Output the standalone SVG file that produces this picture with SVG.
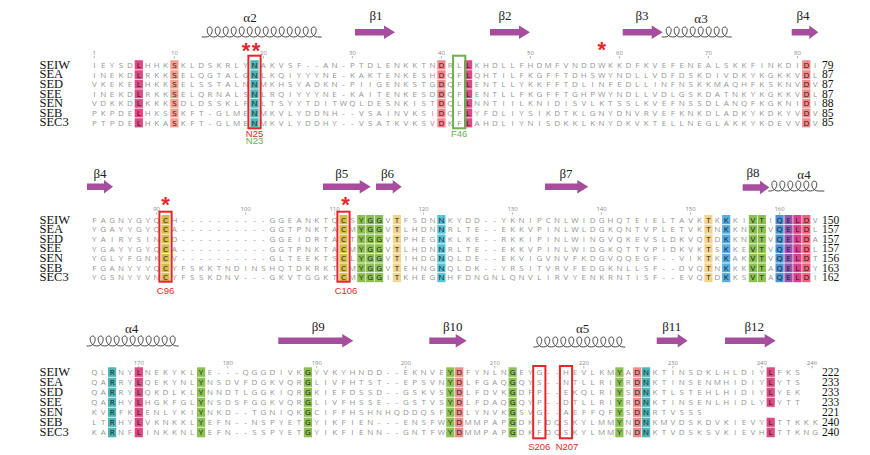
<svg xmlns="http://www.w3.org/2000/svg" width="870" height="455" viewBox="0 0 870 455">
<style>
.lab{font-family:"Liberation Serif",serif;font-size:12.5px;fill:#111}
.num{font-family:"Liberation Serif",serif;font-size:11.5px;fill:#111}
.ss{font-family:"Liberation Serif",serif;font-size:13px;fill:#222;text-anchor:middle}
.seq{font-family:"Open Sans",sans-serif;font-size:8px;fill:#959595;text-anchor:middle}
.k{fill:#1a1a1a}
.mk{font-family:"Open Sans",sans-serif;font-size:6px;fill:#888;text-anchor:middle}
.tick{stroke:#999;stroke-width:0.7}
.arr{fill:#a64d9e}
.coil{fill:none;stroke:#333;stroke-width:0.9}
.ast{font-family:"Liberation Sans",sans-serif;font-size:22px;font-weight:bold;fill:#e8262a;text-anchor:middle}
.rbox{fill:none;stroke:#e8262a;stroke-width:2}
.gbox{fill:none;stroke:#6ab04c;stroke-width:2}
.rl{font-family:"Liberation Sans",sans-serif;font-size:9.5px;fill:#e8262a;text-anchor:middle}
.gl{font-family:"Liberation Sans",sans-serif;font-size:9.5px;fill:#6ab04c;text-anchor:middle}
.sep{stroke:#fff;stroke-width:0.8}
.cM{fill:#dc4a85}.cS{fill:#f0a08c}.cT{fill:#4cb5b5}.cD{fill:#f28a8a}.cC{fill:#d8bc48}.cG{fill:#8cc152}.cY{fill:#f2d48f}.cN{fill:#56c3d6}.cK{fill:#55ace0}.cQ{fill:#4a94d6}.cE{fill:#9457b0}.cL{fill:#d9418c}.cR{fill:#f0627a}
</style>
<rect width="870" height="455" fill="#fff"/>

<!-- ================= BLOCK 1 ================= -->
<g id="block1">
<g id="b1-structure">
<text class="ss" x="250" y="22">α2</text>
<path class="coil" d="M201.7,37h4c7.2,0 8.2,-10 4,-10c-4.2,0-3.2,10 4,10c7.2,0 8.2,-10 4,-10c-4.2,0-3.2,10 4,10c7.2,0 8.2,-10 4,-10c-4.2,0-3.2,10 4,10c7.2,0 8.2,-10 4,-10c-4.2,0-3.2,10 4,10c7.2,0 8.2,-10 4,-10c-4.2,0-3.2,10 4,10c7.2,0 8.2,-10 4,-10c-4.2,0-3.2,10 4,10c7.2,0 8.2,-10 4,-10c-4.2,0-3.2,10 4,10c7.2,0 8.2,-10 4,-10c-4.2,0-3.2,10 4,10c7.2,0 8.2,-10 4,-10c-4.2,0-3.2,10 4,10c7.2,0 8.2,-10 4,-10c-4.2,0-3.2,10 4,10c7.2,0 8.2,-10 4,-10c-4.2,0-3.2,10 4,10c7.2,0 8.2,-10 4,-10c-4.2,0-3.2,10 4,10c7.2,0 8.2,-10 4,-10c-4.2,0-3.2,10 4,10c7.2,0 8.2,-10 4,-10c-4.2,0-3.2,10 4,10h4"/>
<text class="ss" x="376" y="20">β1</text>
<polygon class="arr" points="355,29.1 384,29.1 384,25.6 395,32.3 384,39 384,35.5 355,35.5"/>
<text class="ss" x="505" y="20">β2</text>
<polygon class="arr" points="490,29.1 519,29.1 519,25.6 530,32.3 519,39 519,35.5 490,35.5"/>
<text class="ss" x="642" y="20">β3</text>
<polygon class="arr" points="622.7,29.1 651.7,29.1 651.7,25.6 662.7,32.3 651.7,39 651.7,35.5 622.7,35.5"/>
<text class="ss" x="701" y="22.5">α3</text>
<path class="coil" d="M661.7,37h3c7.2,0 8.2,-10 4,-10c-4.2,0-3.2,10 4,10c7.2,0 8.2,-10 4,-10c-4.2,0-3.2,10 4,10c7.2,0 8.2,-10 4,-10c-4.2,0-3.2,10 4,10c7.2,0 8.2,-10 4,-10c-4.2,0-3.2,10 4,10c7.2,0 8.2,-10 4,-10c-4.2,0-3.2,10 4,10c7.2,0 8.2,-10 4,-10c-4.2,0-3.2,10 4,10c7.2,0 8.2,-10 4,-10c-4.2,0-3.2,10 4,10c7.2,0 8.2,-10 4,-10c-4.2,0-3.2,10 4,10h3"/>
<text class="ss" x="803" y="20">β4</text>
<polygon class="arr" points="791.7,29.1 809.3,29.1 809.3,25.6 818.3,32.3 809.3,39 809.3,35.5 791.7,35.5"/>
<text class="ast" x="246" y="58">*</text>
<text class="ast" x="256" y="58">*</text>
<text class="ast" x="601.7" y="57">*</text>
</g>
<g id="b1-markers">
<text class="mk" x="94.3" y="55">1</text><text class="mk" x="174.4" y="55">10</text><text class="mk" x="263.4" y="55">20</text><text class="mk" x="352.4" y="55">30</text><text class="mk" x="441.4" y="55">40</text><text class="mk" x="530.4" y="55">50</text><text class="mk" x="619.4" y="55">60</text><text class="mk" x="708.4" y="55">70</text><text class="mk" x="797.4" y="55">80</text>
<path class="tick" d="M94.3,56v2.5M174.4,56v2.5M263.4,56v2.5M352.4,56v2.5M441.4,56v2.5M530.4,56v2.5M619.4,56v2.5M708.4,56v2.5M797.4,56v2.5"/>
</g>
<g id="b1-highlights">
<rect class="cM" x="134.7" y="60.2" width="8.2" height="67.2"/>
<rect class="cS" x="170.3" y="60.2" width="8.2" height="67.2"/>
<rect class="cT" x="250.4" y="60.2" width="8.2" height="67.2"/>
<rect class="cD" x="437.3" y="60.2" width="8.2" height="67.2"/>
<rect class="cM" x="464" y="60.2" width="8.2" height="67.2"/>
<rect class="cD" x="802.2" y="60.2" width="8.2" height="67.2"/>
<path class="sep" d="M88,69.8H815M88,79.4H815M88,89H815M88,98.6H815M88,108.2H815M88,117.8H815"/>
</g>
<g id="b1-labels">
<text class="lab" x="39.5" y="68.7">SEIW</text><text class="lab" x="39.5" y="78.3">SEA</text><text class="lab" x="39.5" y="87.9">SED</text><text class="lab" x="39.5" y="97.5">SEE</text><text class="lab" x="39.5" y="107.1">SEN</text><text class="lab" x="39.5" y="116.7">SEB</text><text class="lab" x="39.5" y="126.3">SEC3</text>
<text class="num" x="822" y="68.7">79</text><text class="num" x="822" y="78.3">87</text><text class="num" x="822" y="87.9">87</text><text class="num" x="822" y="97.5">87</text><text class="num" x="822" y="107.1">88</text><text class="num" x="822" y="116.7">85</text><text class="num" x="822" y="126.3">85</text>
</g>
<g id="b1-seqs">
<text class="seq" y="67.9" x="94.3 103.2 112.1 121 129.9 138.8 147.7 156.6 165.5 174.4 183.3 192.2 201.1 210 218.9 227.8 236.7 245.6 254.5 263.4 272.3 281.2 290.1 299 307.9 316.8 325.7 334.6 343.5 352.4 361.3 370.2 379.1 388 396.9 405.8 414.7 423.6 432.5 441.4 450.3 459.2 468.1 477 485.9 494.8 503.7 512.6 521.5 530.4 539.3 548.2 557.1 566 574.9 583.8 592.7 601.6 610.5 619.4 628.3 637.2 646.1 655 663.9 672.8 681.7 690.6 699.5 708.4 717.3 726.2 735.1 744 752.9 761.8 770.7 779.6 788.5 797.4 806.3 815.2">IEYSD<tspan class="k">L</tspan>HHK<tspan class="k">S</tspan>KLDSKRLY<tspan class="k">N</tspan>AKVSF--AN-PTDLENKKTN<tspan class="k">D</tspan>RL<tspan class="k">L</tspan>KHDLLFHDMFVNDDWKKDFKVEFENEALSKKFINKDI<tspan class="k">D</tspan>I</text>
<text class="seq" y="77.5" x="94.3 103.2 112.1 121 129.9 138.8 147.7 156.6 165.5 174.4 183.3 192.2 201.1 210 218.9 227.8 236.7 245.6 254.5 263.4 272.3 281.2 290.1 299 307.9 316.8 325.7 334.6 343.5 352.4 361.3 370.2 379.1 388 396.9 405.8 414.7 423.6 432.5 441.4 450.3 459.2 468.1 477 485.9 494.8 503.7 512.6 521.5 530.4 539.3 548.2 557.1 566 574.9 583.8 592.7 601.6 610.5 619.4 628.3 637.2 646.1 655 663.9 672.8 681.7 690.6 699.5 708.4 717.3 726.2 735.1 744 752.9 761.8 770.7 779.6 788.5 797.4 806.3 815.2">INEKD<tspan class="k">L</tspan>RKK<tspan class="k">S</tspan>ELQGTALG<tspan class="k">N</tspan>LKQIYYYNE-KAKTENKESH<tspan class="k">D</tspan>QF<tspan class="k">L</tspan>QHTILFKGFFTDHSWYNDLLVDFDSKDIVDKYKGKKV<tspan class="k">D</tspan>L</text>
<text class="seq" y="87.1" x="94.3 103.2 112.1 121 129.9 138.8 147.7 156.6 165.5 174.4 183.3 192.2 201.1 210 218.9 227.8 236.7 245.6 254.5 263.4 272.3 281.2 290.1 299 307.9 316.8 325.7 334.6 343.5 352.4 361.3 370.2 379.1 388 396.9 405.8 414.7 423.6 432.5 441.4 450.3 459.2 468.1 477 485.9 494.8 503.7 512.6 521.5 530.4 539.3 548.2 557.1 566 574.9 583.8 592.7 601.6 610.5 619.4 628.3 637.2 646.1 655 663.9 672.8 681.7 690.6 699.5 708.4 717.3 726.2 735.1 744 752.9 761.8 770.7 779.6 788.5 797.4 806.3 815.2">VKEKE<tspan class="k">L</tspan>HKK<tspan class="k">S</tspan>ELSSTALN<tspan class="k">N</tspan>MKHSYADKN-PIIGENKSTG<tspan class="k">D</tspan>QF<tspan class="k">L</tspan>ENTLLYKKFFTDLINFEDLLINFNSKKMAQHFKSKNV<tspan class="k">D</tspan>V</text>
<text class="seq" y="96.7" x="94.3 103.2 112.1 121 129.9 138.8 147.7 156.6 165.5 174.4 183.3 192.2 201.1 210 218.9 227.8 236.7 245.6 254.5 263.4 272.3 281.2 290.1 299 307.9 316.8 325.7 334.6 343.5 352.4 361.3 370.2 379.1 388 396.9 405.8 414.7 423.6 432.5 441.4 450.3 459.2 468.1 477 485.9 494.8 503.7 512.6 521.5 530.4 539.3 548.2 557.1 566 574.9 583.8 592.7 601.6 610.5 619.4 628.3 637.2 646.1 655 663.9 672.8 681.7 690.6 699.5 708.4 717.3 726.2 735.1 744 752.9 761.8 770.7 779.6 788.5 797.4 806.3 815.2">INEKD<tspan class="k">L</tspan>RKK<tspan class="k">S</tspan>ELQRNALS<tspan class="k">N</tspan>LRQIYYYNE-KAITENKESD<tspan class="k">D</tspan>QF<tspan class="k">L</tspan>ENTLLFKGFFTGHPWYNDLLVDLGSKDATNKYKGKKV<tspan class="k">D</tspan>L</text>
<text class="seq" y="106.3" x="94.3 103.2 112.1 121 129.9 138.8 147.7 156.6 165.5 174.4 183.3 192.2 201.1 210 218.9 227.8 236.7 245.6 254.5 263.4 272.3 281.2 290.1 299 307.9 316.8 325.7 334.6 343.5 352.4 361.3 370.2 379.1 388 396.9 405.8 414.7 423.6 432.5 441.4 450.3 459.2 468.1 477 485.9 494.8 503.7 512.6 521.5 530.4 539.3 548.2 557.1 566 574.9 583.8 592.7 601.6 610.5 619.4 628.3 637.2 646.1 655 663.9 672.8 681.7 690.6 699.5 708.4 717.3 726.2 735.1 744 752.9 761.8 770.7 779.6 788.5 797.4 806.3 815.2">VDKKD<tspan class="k">L</tspan>KKK<tspan class="k">S</tspan>DLDSSKLF<tspan class="k">N</tspan>LTSYYTDITWQLDESNKIST<tspan class="k">D</tspan>QL<tspan class="k">L</tspan>NNTIILKNIDISVLKTSSLKVEFNSSDLANQFKGKNI<tspan class="k">D</tspan>I</text>
<text class="seq" y="115.9" x="94.3 103.2 112.1 121 129.9 138.8 147.7 156.6 165.5 174.4 183.3 192.2 201.1 210 218.9 227.8 236.7 245.6 254.5 263.4 272.3 281.2 290.1 299 307.9 316.8 325.7 334.6 343.5 352.4 361.3 370.2 379.1 388 396.9 405.8 414.7 423.6 432.5 441.4 450.3 459.2 468.1 477 485.9 494.8 503.7 512.6 521.5 530.4 539.3 548.2 557.1 566 574.9 583.8 592.7 601.6 610.5 619.4 628.3 637.2 646.1 655 663.9 672.8 681.7 690.6 699.5 708.4 717.3 726.2 735.1 744 752.9 761.8 770.7 779.6 788.5 797.4 806.3 815.2">PKPDE<tspan class="k">L</tspan>HKS<tspan class="k">S</tspan>KFT-GLME<tspan class="k">N</tspan>MKVLYDDNH--VSAINVKSI<tspan class="k">D</tspan>QF<tspan class="k">L</tspan>YFDLIYSIKDTKLGNYDNVRVEFKNKDLADKYKDKYV<tspan class="k">D</tspan>V</text>
<text class="seq" y="125.5" x="94.3 103.2 112.1 121 129.9 138.8 147.7 156.6 165.5 174.4 183.3 192.2 201.1 210 218.9 227.8 236.7 245.6 254.5 263.4 272.3 281.2 290.1 299 307.9 316.8 325.7 334.6 343.5 352.4 361.3 370.2 379.1 388 396.9 405.8 414.7 423.6 432.5 441.4 450.3 459.2 468.1 477 485.9 494.8 503.7 512.6 521.5 530.4 539.3 548.2 557.1 566 574.9 583.8 592.7 601.6 610.5 619.4 628.3 637.2 646.1 655 663.9 672.8 681.7 690.6 699.5 708.4 717.3 726.2 735.1 744 752.9 761.8 770.7 779.6 788.5 797.4 806.3 815.2">PTPDE<tspan class="k">L</tspan>HKA<tspan class="k">S</tspan>KFT-GLME<tspan class="k">N</tspan>MKVLYDDHY--VSATKVKSV<tspan class="k">D</tspan>KF<tspan class="k">L</tspan>AHDLIYNISDKKLKNYDKVKTELLNEGLAKKYKDEVV<tspan class="k">D</tspan>V</text>
</g>
<g id="b1-boxes">
<rect class="rbox" x="248.4" y="55.7" width="12.2" height="72.6"/>
<rect class="gbox" x="453.1" y="55.7" width="12.2" height="72.6"/>
<text class="rl" x="254.5" y="136.6">N25</text>
<text class="gl" x="254.5" y="144.4">N23</text>
<text class="gl" x="459.2" y="136.6">F46</text>
</g>
</g>

<!-- ================= BLOCK 2 ================= -->
<g id="block2">
<g id="b2-structure">
<text class="ss" x="100" y="178">β4</text>
<polygon class="arr" points="87,183.6 104,183.6 104,180.1 113,186.8 104,193.5 104,190 87,190"/>
<text class="ss" x="341.7" y="178">β5</text>
<polygon class="arr" points="323,183.6 359.7,183.6 359.7,180.1 370.7,186.8 359.7,193.5 359.7,190 323,190"/>
<text class="ss" x="387.5" y="178">β6</text>
<polygon class="arr" points="376,183.6 392.7,183.6 392.7,180.1 401.7,186.8 392.7,193.5 392.7,190 376,190"/>
<text class="ss" x="566" y="178">β7</text>
<polygon class="arr" points="545,183.6 577.3,183.6 577.3,180.1 588.3,186.8 577.3,193.5 577.3,190 545,190"/>
<text class="ss" x="753" y="177">β8</text>
<polygon class="arr" points="742.7,184.3 760,184.3 760,180.8 769.5,187.5 760,194.2 760,190.7 742.7,190.7"/>
<text class="ss" x="804" y="178.5">α4</text>
<path class="coil" d="M768.3,191h2c7.2,0 8.2,-10 4,-10c-4.2,0-3.2,10 4,10c7.2,0 8.2,-10 4,-10c-4.2,0-3.2,10 4,10c7.2,0 8.2,-10 4,-10c-4.2,0-3.2,10 4,10c7.2,0 8.2,-10 4,-10c-4.2,0-3.2,10 4,10c7.2,0 8.2,-10 4,-10c-4.2,0-3.2,10 4,10c7.2,0 8.2,-10 4,-10c-4.2,0-3.2,10 4,10h6"/>
<text class="ast" x="165.5" y="211.5">*</text>
<text class="ast" x="345.5" y="211.8">*</text>
</g>
<g id="b2-markers">
<text class="mk" x="156.6" y="211.3">90</text><text class="mk" x="245.6" y="211.3">100</text><text class="mk" x="334.6" y="211.3">110</text><text class="mk" x="423.6" y="211.3">120</text><text class="mk" x="512.6" y="211.3">130</text><text class="mk" x="601.6" y="211.3">140</text><text class="mk" x="690.6" y="211.3">150</text><text class="mk" x="779.6" y="211.3">160</text>
<path class="tick" d="M156.6,212.3v2.5M245.6,212.3v2.5M334.6,212.3v2.5M423.6,212.3v2.5M512.6,212.3v2.5M601.6,212.3v2.5M690.6,212.3v2.5M779.6,212.3v2.5"/>
</g>
<g id="b2-highlights">
<rect class="cC" x="161.4" y="215" width="8.2" height="67.2"/>
<rect class="cC" x="339.4" y="215" width="8.2" height="67.2"/>
<rect class="cG" x="357.2" y="215" width="8.2" height="67.2"/>
<rect class="cG" x="366.1" y="215" width="8.2" height="67.2"/>
<rect class="cG" x="375" y="215" width="8.2" height="67.2"/>
<rect class="cY" x="392.8" y="215" width="8.2" height="67.2"/>
<rect class="cN" x="437.3" y="215" width="8.2" height="67.2"/>
<rect class="cY" x="704.3" y="215" width="8.2" height="67.2"/>
<rect class="cK" x="722.1" y="215" width="8.2" height="67.2"/>
<rect class="cG" x="748.8" y="215" width="8.2" height="67.2"/>
<rect class="cG" x="757.7" y="215" width="8.2" height="67.2"/>
<rect class="cQ" x="775.5" y="215" width="8.2" height="67.2"/>
<rect class="cE" x="784.4" y="215" width="8.2" height="67.2"/>
<rect class="cL" x="793.3" y="215" width="8.2" height="67.2"/>
<rect class="cR" x="802.2" y="215" width="8.2" height="67.2"/>
<path class="sep" d="M88,224.6H815M88,234.2H815M88,243.8H815M88,253.4H815M88,263H815M88,272.6H815"/>
</g>
<g id="b2-labels">
<text class="lab" x="39.5" y="223.5">SEIW</text><text class="lab" x="39.5" y="233.1">SEA</text><text class="lab" x="39.5" y="242.7">SED</text><text class="lab" x="39.5" y="252.3">SEE</text><text class="lab" x="39.5" y="261.9">SEN</text><text class="lab" x="39.5" y="271.5">SEB</text><text class="lab" x="39.5" y="281.1">SEC3</text>
<text class="num" x="822" y="223.5">150</text><text class="num" x="822" y="233.1">157</text><text class="num" x="822" y="242.7">157</text><text class="num" x="822" y="252.3">157</text><text class="num" x="822" y="261.9">156</text><text class="num" x="822" y="271.5">163</text><text class="num" x="822" y="281.1">162</text>
</g>
<g id="b2-seqs">
<text class="seq" y="222.7" x="94.3 103.2 112.1 121 129.9 138.8 147.7 156.6 165.5 174.4 183.3 192.2 201.1 210 218.9 227.8 236.7 245.6 254.5 263.4 272.3 281.2 290.1 299 307.9 316.8 325.7 334.6 343.5 352.4 361.3 370.2 379.1 388 396.9 405.8 414.7 423.6 432.5 441.4 450.3 459.2 468.1 477 485.9 494.8 503.7 512.6 521.5 530.4 539.3 548.2 557.1 566 574.9 583.8 592.7 601.6 610.5 619.4 628.3 637.2 646.1 655 663.9 672.8 681.7 690.6 699.5 708.4 717.3 726.2 735.1 744 752.9 761.8 770.7 779.6 788.5 797.4 806.3 815.2">FAGNYGYQ<tspan class="k">C</tspan>H----------GGEANKTQ<tspan class="k">C</tspan>S<tspan class="k">YGG</tspan>V<tspan class="k">T</tspan>FSDN<tspan class="k">N</tspan>KYDD--YKNIPCNLWIDGHQTEIELTAVK<tspan class="k">T</tspan>K<tspan class="k">K</tspan>KI<tspan class="k">VT</tspan>I<tspan class="k">QELD</tspan>V</text>
<text class="seq" y="232.3" x="94.3 103.2 112.1 121 129.9 138.8 147.7 156.6 165.5 174.4 183.3 192.2 201.1 210 218.9 227.8 236.7 245.6 254.5 263.4 272.3 281.2 290.1 299 307.9 316.8 325.7 334.6 343.5 352.4 361.3 370.2 379.1 388 396.9 405.8 414.7 423.6 432.5 441.4 450.3 459.2 468.1 477 485.9 494.8 503.7 512.6 521.5 530.4 539.3 548.2 557.1 566 574.9 583.8 592.7 601.6 610.5 619.4 628.3 637.2 646.1 655 663.9 672.8 681.7 690.6 699.5 708.4 717.3 726.2 735.1 744 752.9 761.8 770.7 779.6 788.5 797.4 806.3 815.2">YGAYYGYQ<tspan class="k">C</tspan>A----------GGTPNKTA<tspan class="k">C</tspan>M<tspan class="k">YGG</tspan>V<tspan class="k">T</tspan>LHDN<tspan class="k">N</tspan>RLTE--EKKVPINLWLDGKQNTVPLETVK<tspan class="k">T</tspan>N<tspan class="k">K</tspan>KN<tspan class="k">VT</tspan>V<tspan class="k">QELD</tspan>L</text>
<text class="seq" y="241.9" x="94.3 103.2 112.1 121 129.9 138.8 147.7 156.6 165.5 174.4 183.3 192.2 201.1 210 218.9 227.8 236.7 245.6 254.5 263.4 272.3 281.2 290.1 299 307.9 316.8 325.7 334.6 343.5 352.4 361.3 370.2 379.1 388 396.9 405.8 414.7 423.6 432.5 441.4 450.3 459.2 468.1 477 485.9 494.8 503.7 512.6 521.5 530.4 539.3 548.2 557.1 566 574.9 583.8 592.7 601.6 610.5 619.4 628.3 637.2 646.1 655 663.9 672.8 681.7 690.6 699.5 708.4 717.3 726.2 735.1 744 752.9 761.8 770.7 779.6 788.5 797.4 806.3 815.2">YAIRYSIN<tspan class="k">C</tspan>D----------GGEIDRTA<tspan class="k">C</tspan>T<tspan class="k">YGG</tspan>V<tspan class="k">T</tspan>PHEG<tspan class="k">N</tspan>KLKE--RKKIPINLWINGVQKEVSLDKVQ<tspan class="k">T</tspan>D<tspan class="k">K</tspan>KN<tspan class="k">VT</tspan>V<tspan class="k">QELD</tspan>A</text>
<text class="seq" y="251.5" x="94.3 103.2 112.1 121 129.9 138.8 147.7 156.6 165.5 174.4 183.3 192.2 201.1 210 218.9 227.8 236.7 245.6 254.5 263.4 272.3 281.2 290.1 299 307.9 316.8 325.7 334.6 343.5 352.4 361.3 370.2 379.1 388 396.9 405.8 414.7 423.6 432.5 441.4 450.3 459.2 468.1 477 485.9 494.8 503.7 512.6 521.5 530.4 539.3 548.2 557.1 566 574.9 583.8 592.7 601.6 610.5 619.4 628.3 637.2 646.1 655 663.9 672.8 681.7 690.6 699.5 708.4 717.3 726.2 735.1 744 752.9 761.8 770.7 779.6 788.5 797.4 806.3 815.2">YGAYYGYQ<tspan class="k">C</tspan>A----------GGTPNKTA<tspan class="k">C</tspan>M<tspan class="k">YGG</tspan>V<tspan class="k">T</tspan>LHDN<tspan class="k">N</tspan>RLTE--EKKVPINLWIDGKQTTVPIDKVK<tspan class="k">T</tspan>S<tspan class="k">K</tspan>KE<tspan class="k">VT</tspan>V<tspan class="k">QELD</tspan>L</text>
<text class="seq" y="261.1" x="94.3 103.2 112.1 121 129.9 138.8 147.7 156.6 165.5 174.4 183.3 192.2 201.1 210 218.9 227.8 236.7 245.6 254.5 263.4 272.3 281.2 290.1 299 307.9 316.8 325.7 334.6 343.5 352.4 361.3 370.2 379.1 388 396.9 405.8 414.7 423.6 432.5 441.4 450.3 459.2 468.1 477 485.9 494.8 503.7 512.6 521.5 530.4 539.3 548.2 557.1 566 574.9 583.8 592.7 601.6 610.5 619.4 628.3 637.2 646.1 655 663.9 672.8 681.7 690.6 699.5 708.4 717.3 726.2 735.1 744 752.9 761.8 770.7 779.6 788.5 797.4 806.3 815.2">YGLYFGNK<tspan class="k">C</tspan>V----------GLTEEKTS<tspan class="k">C</tspan>L<tspan class="k">YGG</tspan>V<tspan class="k">T</tspan>IHDG<tspan class="k">N</tspan>QLDE--EKVIGVNVFKDGVQQEGF--VIK<tspan class="k">T</tspan>K<tspan class="k">K</tspan>AK<tspan class="k">VT</tspan>V<tspan class="k">QELD</tspan>T</text>
<text class="seq" y="270.7" x="94.3 103.2 112.1 121 129.9 138.8 147.7 156.6 165.5 174.4 183.3 192.2 201.1 210 218.9 227.8 236.7 245.6 254.5 263.4 272.3 281.2 290.1 299 307.9 316.8 325.7 334.6 343.5 352.4 361.3 370.2 379.1 388 396.9 405.8 414.7 423.6 432.5 441.4 450.3 459.2 468.1 477 485.9 494.8 503.7 512.6 521.5 530.4 539.3 548.2 557.1 566 574.9 583.8 592.7 601.6 610.5 619.4 628.3 637.2 646.1 655 663.9 672.8 681.7 690.6 699.5 708.4 717.3 726.2 735.1 744 752.9 761.8 770.7 779.6 788.5 797.4 806.3 815.2">FGANYYYQ<tspan class="k">C</tspan>YFSKKTNDINSHQTDKRKT<tspan class="k">C</tspan>M<tspan class="k">YGG</tspan>V<tspan class="k">T</tspan>EHNG<tspan class="k">N</tspan>QLDK--YRSITVRVFEDGKNLLSF--DVQ<tspan class="k">T</tspan>N<tspan class="k">K</tspan>KK<tspan class="k">VT</tspan>A<tspan class="k">QELD</tspan>Y</text>
<text class="seq" y="280.3" x="94.3 103.2 112.1 121 129.9 138.8 147.7 156.6 165.5 174.4 183.3 192.2 201.1 210 218.9 227.8 236.7 245.6 254.5 263.4 272.3 281.2 290.1 299 307.9 316.8 325.7 334.6 343.5 352.4 361.3 370.2 379.1 388 396.9 405.8 414.7 423.6 432.5 441.4 450.3 459.2 468.1 477 485.9 494.8 503.7 512.6 521.5 530.4 539.3 548.2 557.1 566 574.9 583.8 592.7 601.6 610.5 619.4 628.3 637.2 646.1 655 663.9 672.8 681.7 690.6 699.5 708.4 717.3 726.2 735.1 744 752.9 761.8 770.7 779.6 788.5 797.4 806.3 815.2">YGSNYYVN<tspan class="k">C</tspan>YFSSKDNV---GKVTGGKT<tspan class="k">C</tspan>M<tspan class="k">YGG</tspan>I<tspan class="k">T</tspan>KHEG<tspan class="k">N</tspan>HFDNGNLQNVLIRVYENKRNTISF--EVQ<tspan class="k">T</tspan>D<tspan class="k">K</tspan>KS<tspan class="k">VT</tspan>A<tspan class="k">QELD</tspan>I</text>
</g>
<g id="b2-boxes">
<rect class="rbox" x="159.4" y="211.7" width="12.2" height="70"/>
<rect class="rbox" x="337.4" y="211.7" width="12.2" height="70"/>
<text class="rl" x="165.5" y="294">C96</text>
<text class="rl" x="346" y="294">C106</text>
</g>
</g>

<!-- ================= BLOCK 3 ================= -->
<g id="block3">
<g id="b3-structure">
<text class="ss" x="131.7" y="333.3">α4</text>
<path class="coil" d="M86.7,346h2c7.2,0 8.2,-10 4,-10c-4.2,0-3.2,10 4,10c7.2,0 8.2,-10 4,-10c-4.2,0-3.2,10 4,10c7.2,0 8.2,-10 4,-10c-4.2,0-3.2,10 4,10c7.2,0 8.2,-10 4,-10c-4.2,0-3.2,10 4,10c7.2,0 8.2,-10 4,-10c-4.2,0-3.2,10 4,10c7.2,0 8.2,-10 4,-10c-4.2,0-3.2,10 4,10c7.2,0 8.2,-10 4,-10c-4.2,0-3.2,10 4,10c7.2,0 8.2,-10 4,-10c-4.2,0-3.2,10 4,10c7.2,0 8.2,-10 4,-10c-4.2,0-3.2,10 4,10c7.2,0 8.2,-10 4,-10c-4.2,0-3.2,10 4,10c7.2,0 8.2,-10 4,-10c-4.2,0-3.2,10 4,10h2"/>
<text class="ss" x="318.3" y="331">β9</text>
<polygon class="arr" points="278.3,337.5 342.3,337.5 342.3,334 353.3,340.7 342.3,347.4 342.3,343.9 278.3,343.9"/>
<text class="ss" x="452.8" y="331">β10</text>
<polygon class="arr" points="429.3,337.5 455.7,337.5 455.7,334 466.7,340.7 455.7,347.4 455.7,343.9 429.3,343.9"/>
<text class="ss" x="582.7" y="333.3">α5</text>
<path class="coil" d="M533.3,347h2c7.2,0 8.2,-10 4,-10c-4.2,0-3.2,10 4,10c7.2,0 8.2,-10 4,-10c-4.2,0-3.2,10 4,10c7.2,0 8.2,-10 4,-10c-4.2,0-3.2,10 4,10c7.2,0 8.2,-10 4,-10c-4.2,0-3.2,10 4,10c7.2,0 8.2,-10 4,-10c-4.2,0-3.2,10 4,10c7.2,0 8.2,-10 4,-10c-4.2,0-3.2,10 4,10c7.2,0 8.2,-10 4,-10c-4.2,0-3.2,10 4,10c7.2,0 8.2,-10 4,-10c-4.2,0-3.2,10 4,10c7.2,0 8.2,-10 4,-10c-4.2,0-3.2,10 4,10c7.2,0 8.2,-10 4,-10c-4.2,0-3.2,10 4,10c7.2,0 8.2,-10 4,-10c-4.2,0-3.2,10 4,10h2"/>
<text class="ss" x="671.7" y="331">β11</text>
<polygon class="arr" points="656.7,337.5 677.7,337.5 677.7,334 687.7,340.7 677.7,347.4 677.7,343.9 656.7,343.9"/>
<text class="ss" x="754.3" y="331">β12</text>
<polygon class="arr" points="725,337.5 764.7,337.5 764.7,334 775.7,340.7 764.7,347.4 764.7,343.9 725,343.9"/>
</g>
<g id="b3-markers">
<text class="mk" x="138.8" y="365">170</text><text class="mk" x="227.8" y="365">180</text><text class="mk" x="316.8" y="365">190</text><text class="mk" x="405.8" y="365">200</text><text class="mk" x="494.8" y="365">210</text><text class="mk" x="583.8" y="365">220</text><text class="mk" x="672.8" y="365">230</text><text class="mk" x="761.8" y="365">240</text><text class="mk" x="812" y="365">246</text>
<path class="tick" d="M138.8,366v2.3M227.8,366v2.3M316.8,366v2.3M405.8,366v2.3M494.8,366v2.3M583.8,366v2.3M672.8,366v2.3M761.8,366v2.3M812,366v2.3"/>
</g>
<g id="b3-highlights">
<rect class="cT" x="108" y="367.3" width="8.2" height="70"/>
<rect class="cM" x="134.7" y="367.3" width="8.2" height="70"/>
<rect class="cG" x="197" y="367.3" width="8.2" height="70"/>
<rect class="cG" x="303.8" y="367.3" width="8.2" height="70"/>
<rect class="cG" x="446.2" y="367.3" width="8.2" height="70"/>
<rect class="cD" x="455.1" y="367.3" width="8.2" height="70"/>
<rect class="cG" x="508.5" y="367.3" width="8.2" height="70"/>
<rect class="cG" x="615.3" y="367.3" width="8.2" height="70"/>
<rect class="cD" x="633.1" y="367.3" width="8.2" height="70"/>
<rect class="cT" x="642" y="367.3" width="8.2" height="70"/>
<rect class="cM" x="766.6" y="367.3" width="8.2" height="40"/>
<rect class="cM" x="766.6" y="417.3" width="8.2" height="20"/>
<path class="sep" d="M88,377.3H815M88,387.3H815M88,397.3H815M88,407.3H815M88,417.3H815M88,427.3H815"/>
</g>
<g id="b3-labels">
<text class="lab" x="39.5" y="376">SEIW</text><text class="lab" x="39.5" y="386">SEA</text><text class="lab" x="39.5" y="396">SED</text><text class="lab" x="39.5" y="406">SEE</text><text class="lab" x="39.5" y="416">SEN</text><text class="lab" x="39.5" y="426">SEB</text><text class="lab" x="39.5" y="436">SEC3</text>
<text class="num" x="822" y="376">222</text><text class="num" x="822" y="386">233</text><text class="num" x="822" y="396">233</text><text class="num" x="822" y="406">233</text><text class="num" x="822" y="416">221</text><text class="num" x="822" y="426">240</text><text class="num" x="822" y="436">240</text>
</g>
<g id="b3-seqs">
<text class="seq" y="375.2" x="94.3 103.2 112.1 121 129.9 138.8 147.7 156.6 165.5 174.4 183.3 192.2 201.1 210 218.9 227.8 236.7 245.6 254.5 263.4 272.3 281.2 290.1 299 307.9 316.8 325.7 334.6 343.5 352.4 361.3 370.2 379.1 388 396.9 405.8 414.7 423.6 432.5 441.4 450.3 459.2 468.1 477 485.9 494.8 503.7 512.6 521.5 530.4 539.3 548.2 557.1 566 574.9 583.8 592.7 601.6 610.5 619.4 628.3 637.2 646.1 655 663.9 672.8 681.7 690.6 699.5 708.4 717.3 726.2 735.1 744 752.9 761.8 770.7 779.6 788.5 797.4 806.3 815.2">QL<tspan class="k">R</tspan>NY<tspan class="k">L</tspan>NEKYKL<tspan class="k">Y</tspan>E---QGGDIVK<tspan class="k">G</tspan>YVKYHNDD--EKNVE<tspan class="k">YD</tspan>FYNLN<tspan class="k">G</tspan>EYG--HEVLKM<tspan class="k">Y</tspan>A<tspan class="k">DN</tspan>KTINSDKLHLDIY<tspan class="k">L</tspan>FKS</text>
<text class="seq" y="385.2" x="94.3 103.2 112.1 121 129.9 138.8 147.7 156.6 165.5 174.4 183.3 192.2 201.1 210 218.9 227.8 236.7 245.6 254.5 263.4 272.3 281.2 290.1 299 307.9 316.8 325.7 334.6 343.5 352.4 361.3 370.2 379.1 388 396.9 405.8 414.7 423.6 432.5 441.4 450.3 459.2 468.1 477 485.9 494.8 503.7 512.6 521.5 530.4 539.3 548.2 557.1 566 574.9 583.8 592.7 601.6 610.5 619.4 628.3 637.2 646.1 655 663.9 672.8 681.7 690.6 699.5 708.4 717.3 726.2 735.1 744 752.9 761.8 770.7 779.6 788.5 797.4 806.3 815.2">QA<tspan class="k">R</tspan>RY<tspan class="k">L</tspan>QEKYNL<tspan class="k">Y</tspan>NSDVFDGKVQR<tspan class="k">G</tspan>LIVFHTST--EPSVN<tspan class="k">YD</tspan>LFGAQ<tspan class="k">G</tspan>QYS--NTLLRI<tspan class="k">Y</tspan>R<tspan class="k">DN</tspan>KTINSENMHIDIY<tspan class="k">L</tspan>YTS</text>
<text class="seq" y="395.2" x="94.3 103.2 112.1 121 129.9 138.8 147.7 156.6 165.5 174.4 183.3 192.2 201.1 210 218.9 227.8 236.7 245.6 254.5 263.4 272.3 281.2 290.1 299 307.9 316.8 325.7 334.6 343.5 352.4 361.3 370.2 379.1 388 396.9 405.8 414.7 423.6 432.5 441.4 450.3 459.2 468.1 477 485.9 494.8 503.7 512.6 521.5 530.4 539.3 548.2 557.1 566 574.9 583.8 592.7 601.6 610.5 619.4 628.3 637.2 646.1 655 663.9 672.8 681.7 690.6 699.5 708.4 717.3 726.2 735.1 744 752.9 761.8 770.7 779.6 788.5 797.4 806.3 815.2">QA<tspan class="k">R</tspan>RY<tspan class="k">L</tspan>QKDLKL<tspan class="k">Y</tspan>NNDTLGGKIQR<tspan class="k">G</tspan>KIEFDSSD--GSKVS<tspan class="k">YD</tspan>LFDVK<tspan class="k">G</tspan>DFP--EKQLRI<tspan class="k">Y</tspan>S<tspan class="k">DN</tspan>KTLSTEHLHIDIY<tspan class="k">L</tspan>YEK</text>
<text class="seq" y="405.2" x="94.3 103.2 112.1 121 129.9 138.8 147.7 156.6 165.5 174.4 183.3 192.2 201.1 210 218.9 227.8 236.7 245.6 254.5 263.4 272.3 281.2 290.1 299 307.9 316.8 325.7 334.6 343.5 352.4 361.3 370.2 379.1 388 396.9 405.8 414.7 423.6 432.5 441.4 450.3 459.2 468.1 477 485.9 494.8 503.7 512.6 521.5 530.4 539.3 548.2 557.1 566 574.9 583.8 592.7 601.6 610.5 619.4 628.3 637.2 646.1 655 663.9 672.8 681.7 690.6 699.5 708.4 717.3 726.2 735.1 744 752.9 761.8 770.7 779.6 788.5 797.4 806.3 815.2">QA<tspan class="k">R</tspan>HY<tspan class="k">L</tspan>HGKFGL<tspan class="k">Y</tspan>NSDSFGGKVQR<tspan class="k">G</tspan>LIVFHSSE--GSTVS<tspan class="k">YD</tspan>LFDAQ<tspan class="k">G</tspan>QYP--DTLLRI<tspan class="k">Y</tspan>R<tspan class="k">DN</tspan>KTINSENLHIDLY<tspan class="k">L</tspan>YTT</text>
<text class="seq" y="415.2" x="94.3 103.2 112.1 121 129.9 138.8 147.7 156.6 165.5 174.4 183.3 192.2 201.1 210 218.9 227.8 236.7 245.6 254.5 263.4 272.3 281.2 290.1 299 307.9 316.8 325.7 334.6 343.5 352.4 361.3 370.2 379.1 388 396.9 405.8 414.7 423.6 432.5 441.4 450.3 459.2 468.1 477 485.9 494.8 503.7 512.6 521.5 530.4 539.3 548.2 557.1 566 574.9 583.8 592.7 601.6 610.5 619.4 628.3 637.2 646.1 655 663.9 672.8 681.7 690.6 699.5 708.4 717.3 726.2 735.1 744 752.9 761.8 770.7 779.6 788.5 797.4 806.3 815.2">KV<tspan class="k">R</tspan>FK<tspan class="k">L</tspan>ENLYKI<tspan class="k">Y</tspan>NKD--TGNIQK<tspan class="k">G</tspan>CIFFHSHNHQDDQSF<tspan class="k">YD</tspan>LYNVK<tspan class="k">G</tspan>SVG--AEFFQF<tspan class="k">Y</tspan>S<tspan class="k">DN</tspan>RTVSSS</text>
<text class="seq" y="425.2" x="94.3 103.2 112.1 121 129.9 138.8 147.7 156.6 165.5 174.4 183.3 192.2 201.1 210 218.9 227.8 236.7 245.6 254.5 263.4 272.3 281.2 290.1 299 307.9 316.8 325.7 334.6 343.5 352.4 361.3 370.2 379.1 388 396.9 405.8 414.7 423.6 432.5 441.4 450.3 459.2 468.1 477 485.9 494.8 503.7 512.6 521.5 530.4 539.3 548.2 557.1 566 574.9 583.8 592.7 601.6 610.5 619.4 628.3 637.2 646.1 655 663.9 672.8 681.7 690.6 699.5 708.4 717.3 726.2 735.1 744 752.9 761.8 770.7 779.6 788.5 797.4 806.3 815.2">LT<tspan class="k">R</tspan>HY<tspan class="k">L</tspan>VKNKKL<tspan class="k">Y</tspan>EFN--NSPYET<tspan class="k">G</tspan>YIKFIEN---ENSFW<tspan class="k">YD</tspan>MMPAP<tspan class="k">G</tspan>DKFDQSKYLMM<tspan class="k">Y</tspan>N<tspan class="k">DN</tspan>KMVDSKDVKIEVY<tspan class="k">L</tspan>TTKKK</text>
<text class="seq" y="435.2" x="94.3 103.2 112.1 121 129.9 138.8 147.7 156.6 165.5 174.4 183.3 192.2 201.1 210 218.9 227.8 236.7 245.6 254.5 263.4 272.3 281.2 290.1 299 307.9 316.8 325.7 334.6 343.5 352.4 361.3 370.2 379.1 388 396.9 405.8 414.7 423.6 432.5 441.4 450.3 459.2 468.1 477 485.9 494.8 503.7 512.6 521.5 530.4 539.3 548.2 557.1 566 574.9 583.8 592.7 601.6 610.5 619.4 628.3 637.2 646.1 655 663.9 672.8 681.7 690.6 699.5 708.4 717.3 726.2 735.1 744 752.9 761.8 770.7 779.6 788.5 797.4 806.3 815.2">KA<tspan class="k">R</tspan>NF<tspan class="k">L</tspan>INKKNL<tspan class="k">Y</tspan>EFN--SSPYET<tspan class="k">G</tspan>YIKFIENN--GNTFW<tspan class="k">YD</tspan>MMPAP<tspan class="k">G</tspan>DKFDQSKYLMM<tspan class="k">Y</tspan>N<tspan class="k">DN</tspan>KTVDSKSVKIEVH<tspan class="k">L</tspan>TTKNG</text>
</g>
<g id="b3-boxes">
<rect class="rbox" x="533.2" y="366" width="12.2" height="72.3"/>
<rect class="rbox" x="559.9" y="366" width="12.2" height="72.3"/>
<text class="rl" x="539.3" y="450">S206</text>
<text class="rl" x="567" y="450">N207</text>
</g>
</g>
</svg>
